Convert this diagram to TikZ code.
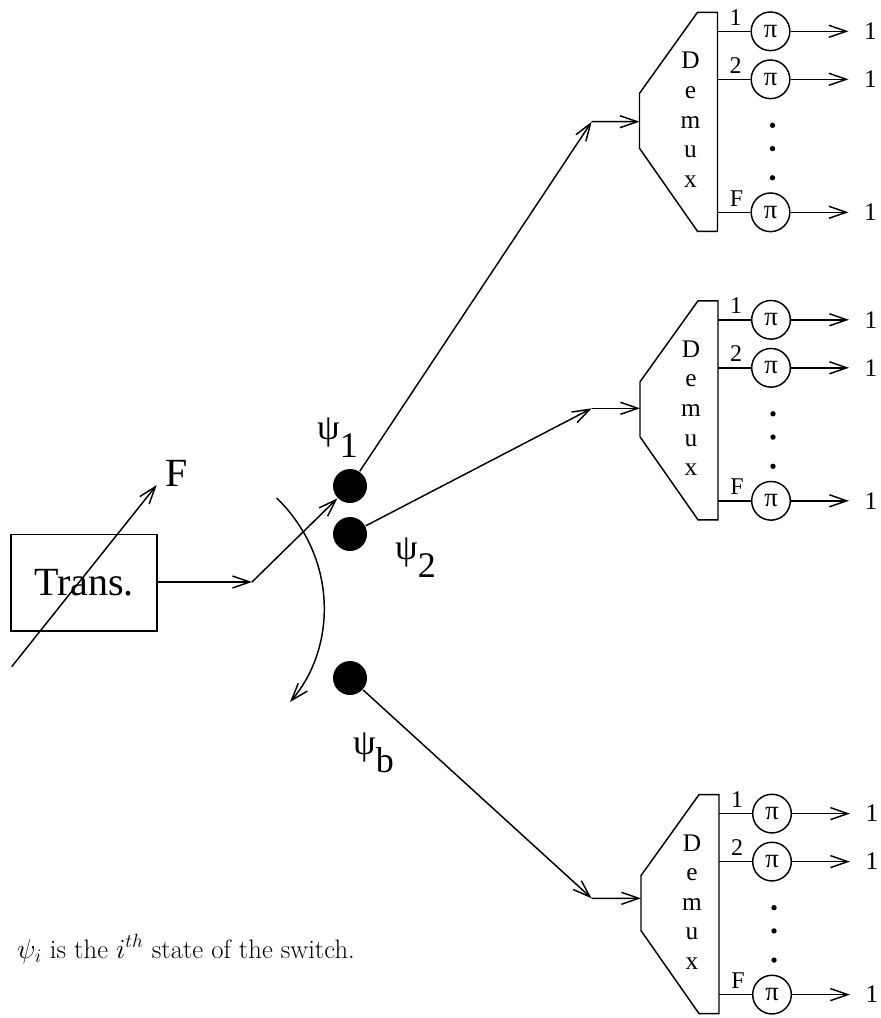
\documentclass[tikz,border=0pt]{standalone}
\usepackage{fontspec}
\newfontfamily\tms{Liberation Serif}
\usetikzlibrary{arrows.meta}
\tikzset{
  arr/.style={-{Straight Barb[length=13pt,width=9pt]}},
  pinode/.style={draw,circle,minimum size=29pt,inner sep=0pt,font=\tms\fontsize{20}{20}\selectfont},
  dotnode/.style={fill=black,circle,minimum size=25.5pt,inner sep=0pt},
  smalllab/.style={inner sep=0pt,font=\tms\fontsize{18}{18}\selectfont},
  outlab/.style={inner sep=0pt,font=\tms\fontsize{19}{19}\selectfont},
  letter/.style={inner sep=0pt,anchor=base,font=\tms\fontsize{19}{19}\selectfont},
  psilab/.style={inner sep=0pt,font=\tms\fontsize{27}{27}\selectfont},
}
% #1 name, #2 x, #3 y of body centre line, #4 offset of input point
\newcommand{\demuxunit}[4]{%
\begin{scope}[shift={(#2,#3)}]
  \coordinate (#1in) at (0,#4);
  \draw (58,-107) -- (78,-107) -- (78,112) -- (58,112) -- (0,29) -- (0,-26) -- cycle;
  \foreach \l [count=\k from 0] in {D,e,m,u,x}
    \node[letter] (#1let\k) at (51,-50.5+29.6*\k) {\l};
  \coordinate (#1o1) at (78,-88);
  \coordinate (#1o2) at (78,-40);
  \coordinate (#1oF) at (78,93);
  \node[pinode] (#1p1) at (131,-88) {π};
  \node[pinode] (#1p2) at (131,-40) {π};
  \node[pinode] (#1pF) at (131,93) {π};
  \coordinate (#1e1) at (209,-88);
  \coordinate (#1e2) at (209,-40);
  \coordinate (#1eF) at (209,93);
  \draw (#1o1) -- (#1p1);
  \draw (#1o2) -- (#1p2);
  \draw (#1oF) -- (#1pF);
  \draw[arr] (#1p1) -- (#1e1);
  \draw[arr] (#1p2) -- (#1e2);
  \draw[arr] (#1pF) -- (#1eF);
  \node[smalllab,anchor=base] (#1n1) at (96,-94) {1};
  \node[smalllab,anchor=base] (#1n2) at (96,-46) {2};
  \node[smalllab,anchor=base] (#1nF) at (97,87) {F};
  \node[outlab] (#1r1) at (231,-88) {1};
  \node[outlab] (#1r2) at (231,-40) {1};
  \node[outlab] (#1rF) at (231,93) {1};
  \fill (133,6) circle (2pt);
  \fill (133,29.3) circle (2pt);
  \fill (133,58.5) circle (2pt);
\end{scope}}

\begin{document}
\begin{tikzpicture}[x=0.75pt,y=-0.75pt,line width=1.1pt]
\useasboundingbox (0,0) rectangle (881,1018);

% Transmitter
\node[draw,minimum width=109.3pt,minimum height=72.5pt,inner sep=0pt,
      font=\tms\fontsize{30}{30}\selectfont] (trans) at (83.9,582.7) {Trans.};
\coordinate (fs) at (11.7,666.7);
\coordinate (fe) at (156.7,485);
\draw[arr] (fs) -- (fe);
\node[inner sep=0pt,font=\tms\fontsize{30}{30}\selectfont] (flab) at (177,473) {F};

% switch
\coordinate (sw) at (252,582);
\node[dotnode] (d1) at (350,486) {};
\node[dotnode] (d2) at (350,534) {};
\node[dotnode] (db) at (350,678) {};
\draw[arr] (trans.east |- sw) -- (sw);
\draw[arr] (sw) -- (d1);
\coordinate (as) at (276.7,498);
\coordinate (ae) at (290,702);
\draw[arr] (as) .. controls (340,560) and (335,650) .. (ae);

\node[psilab] (l1) at (337.5,437.5) {ψ\raisebox{-0.5em}{1}};
\node[psilab] (l2) at (415.5,557.5) {ψ\raisebox{-0.5em}{2}};
\node[psilab] (lb) at (373.5,753) {ψ\raisebox{-0.5em}{b}};

% demuxes
\demuxunit{A}{639.5}{119.3}{2.4}
\demuxunit{B}{640}{407.8}{0.5}
\demuxunit{C}{641}{901.6}{-3.3}

\coordinate (c1) at (591.7,121.7);
\coordinate (c2) at (591.7,408.3);
\coordinate (c3) at (591.7,898.3);
\draw[arr] (d1) -- (c1);
\draw[arr] (d2) -- (c2);
\draw[arr] (db) -- (c3);
\draw[arr] (c1) -- (Ain);
\draw[arr] (c2) -- (Bin);
\draw[arr] (c3) -- (Cin);

\node[anchor=base west,inner sep=0pt] (cap) at (16.5,958)
  {\fontsize{20}{24}\selectfont $\psi_i$ is the $i^{th}$ state of the switch.};
\end{tikzpicture}
\end{document}
